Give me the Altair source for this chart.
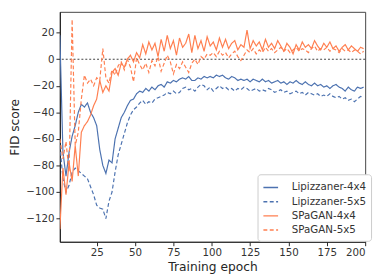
import altair as alt
import pandas as pd

epochs = list(range(1, 201, 2))

lip4 = [18, -70, -88, -70, -58, -50, -40, -34, -36, -33,
        -40, -44, -50, -68, -80, -86, -76, -78, -60, -52,
        -44, -40, -35, -31, -30, -26, -24, -25, -22, -24,
        -21, -23, -20, -19, -21, -17, -18, -16, -17, -15,
        -14, -15, -13, -16, -16, -14, -15, -13, -14, -13,
        -14, -12, -13, -12, -14, -15, -13, -14, -16, -15,
        -16, -15, -17, -15, -16, -17, -15, -17, -16, -18,
        -17, -16, -18, -17, -19, -17, -18, -16, -18, -19,
        -17, -19, -20, -18, -20, -19, -21, -20, -22, -20,
        -19, -21, -22, -24, -21, -23, -24, -21, -22, -21]

lip5 = [-65, -90, -100, -95, -85, -82, -84, -86, -88, -90,
        -96, -102, -110, -112, -113, -120, -107, -100, -85, -72,
        -64, -56, -48, -42, -38, -36, -33, -31, -34, -32,
        -33, -30, -29, -28, -27, -25, -26, -24, -26, -25,
        -22, -21, -23, -22, -24, -21, -19, -20, -23, -21,
        -24, -22, -20, -22, -21, -23, -22, -24, -22, -23,
        -21, -22, -24, -23, -22, -24, -23, -24, -22, -23,
        -25, -24, -23, -25, -24, -26, -25, -24, -26, -25,
        -27, -25, -26, -27, -26, -28, -27, -28, -26, -28,
        -29, -28, -30, -29, -31, -30, -32, -30, -28, -29]

spa4 = [-128, -82, -102, -78, -92, -65, -88, -55, -50, -47,
        -42, -35, -30, -16, -25, -20, -24, -10, -7, -12,
        -3, -6, 0, 3, -2, 5, 1, 11, 4, 13,
        7, 12, 2, 15, 6, 18, 8, 14, 3, 16,
        9, 12, 19, 5, 18, 8, 14, 6, 17, 10,
        13, 7, 16, 9, 15, 8, 12, 14, 7, 11,
        9, 22, 8, 14, 10, 13, 7, 15, 9, 12,
        8, 14, 10, 6, 12, 9, 4, 11, 7, 13,
        9, 11, 8, 14, 10, 7, 12, 9, 13, 8,
        10, 6, 9, 11, 7, 10, 8, 6, 9, 8]

spa5 = [-60, -75, -62, -85, 30, -65, -55, -30, -12, -18,
        -15, -20, -14, -16, 8, -14, -18, -8, -12, -5,
        -2, -8, 0, -6, -17, 1, -4, -8, -3, -10,
        -1, -5, 2, -9, -3, 3, -2, -11, -4, -7,
        -2, -6, -10, -3, 0, -4, 2, 0, 4, 3,
        5, 2, 6, 3, 5, 1, 4, 6, 2, -1,
        3, 7, 5, 8, 4, 7, 5, 9, 6, 8,
        5, 7, 9, 6, 8, 5, 7, 9, 6, 8,
        7, 5, 8, 10, 6, 8, 7, 9, 6, 8,
        7, 5, 8, 6, 7, 5, 7, 6, 4, 6]

series_names = ["Lipizzaner-4x4", "Lipizzaner-5x5", "SPaGAN-4x4", "SPaGAN-5x5"]
series_vals = [lip4, lip5, spa4, spa5]
colors = ["#4C72B0", "#4C72B0", "#FF7F50", "#FF7F50"]
dashes = [[1, 0], [4, 2.5], [1, 0], [4, 2.5]]

y_ticks = [-120, -100, -80, -60, -40, -20, 0, 20]
x_ticks = [25, 50, 75, 100, 125, 150, 175, 200]

rows = []
for name, vals in zip(series_names, series_vals):
    for e, v in zip(epochs, vals):
        rows.append({"epoch": e, "fid": v, "series": name})
df = pd.DataFrame(rows)

xs = alt.Scale(domain=[1, 200], nice=False, zero=False)
ys = alt.Scale(domain=[-137.5, 35.7], nice=False, zero=False)
y_axis = alt.Axis(values=y_ticks, labelOverlap=False)

lines = alt.Chart(df).mark_line(strokeWidth=1.2, clip=True).encode(
    x=alt.X("epoch:Q", scale=xs, title="Training epoch",
            axis=alt.Axis(values=x_ticks, labelOverlap=False)),
    y=alt.Y("fid:Q", scale=ys, title="FID score", axis=y_axis),
    color=alt.Color("series:N", scale=alt.Scale(domain=series_names, range=colors),
                    title=None,
                    legend=alt.Legend(orient="none", legendX=202, legendY=166,
                                      symbolType="stroke", symbolSize=225,
                                      symbolStrokeWidth=1.5, labelFontSize=10.5,
                                      labelColor="#333", rowPadding=0.5,
                                      padding=5, fillColor="white",
                                      strokeColor="#cccccc", cornerRadius=3,
                                      labelOffset=13)),
    strokeDash=alt.StrokeDash("series:N",
                              scale=alt.Scale(domain=series_names, range=dashes),
                              title=None, legend=None),
    order=alt.Order("epoch:Q"),
)

zero = alt.Chart(pd.DataFrame({"y": [0]})).mark_rule(
    color="#444", strokeDash=[2, 2], strokeWidth=1.2).encode(
    y=alt.Y("y:Q", scale=ys, title="FID score", axis=y_axis))

chart = alt.layer(zero, lines).properties(
    width=312, height=235,
    autosize=alt.AutoSizeParams(type="none"),
    padding={"left": 53, "top": 1, "right": 8, "bottom": 30},
).configure(font="DejaVu Sans").configure_view(
    stroke="#444", strokeWidth=1
).configure_axis(
    grid=False, domainColor="#262626", domainWidth=1.2,
    tickColor="#262626", tickSize=4, labelFontSize=10.5, labelColor="#333",
    titleFontSize=12.5, titleFontWeight="normal", titleColor="#262626", labelPadding=2,
).configure_axisY(titlePadding=4).configure_axisX(titlePadding=3)

chart.save("out.html", embed_options={"renderer": "svg", "actions": False})
